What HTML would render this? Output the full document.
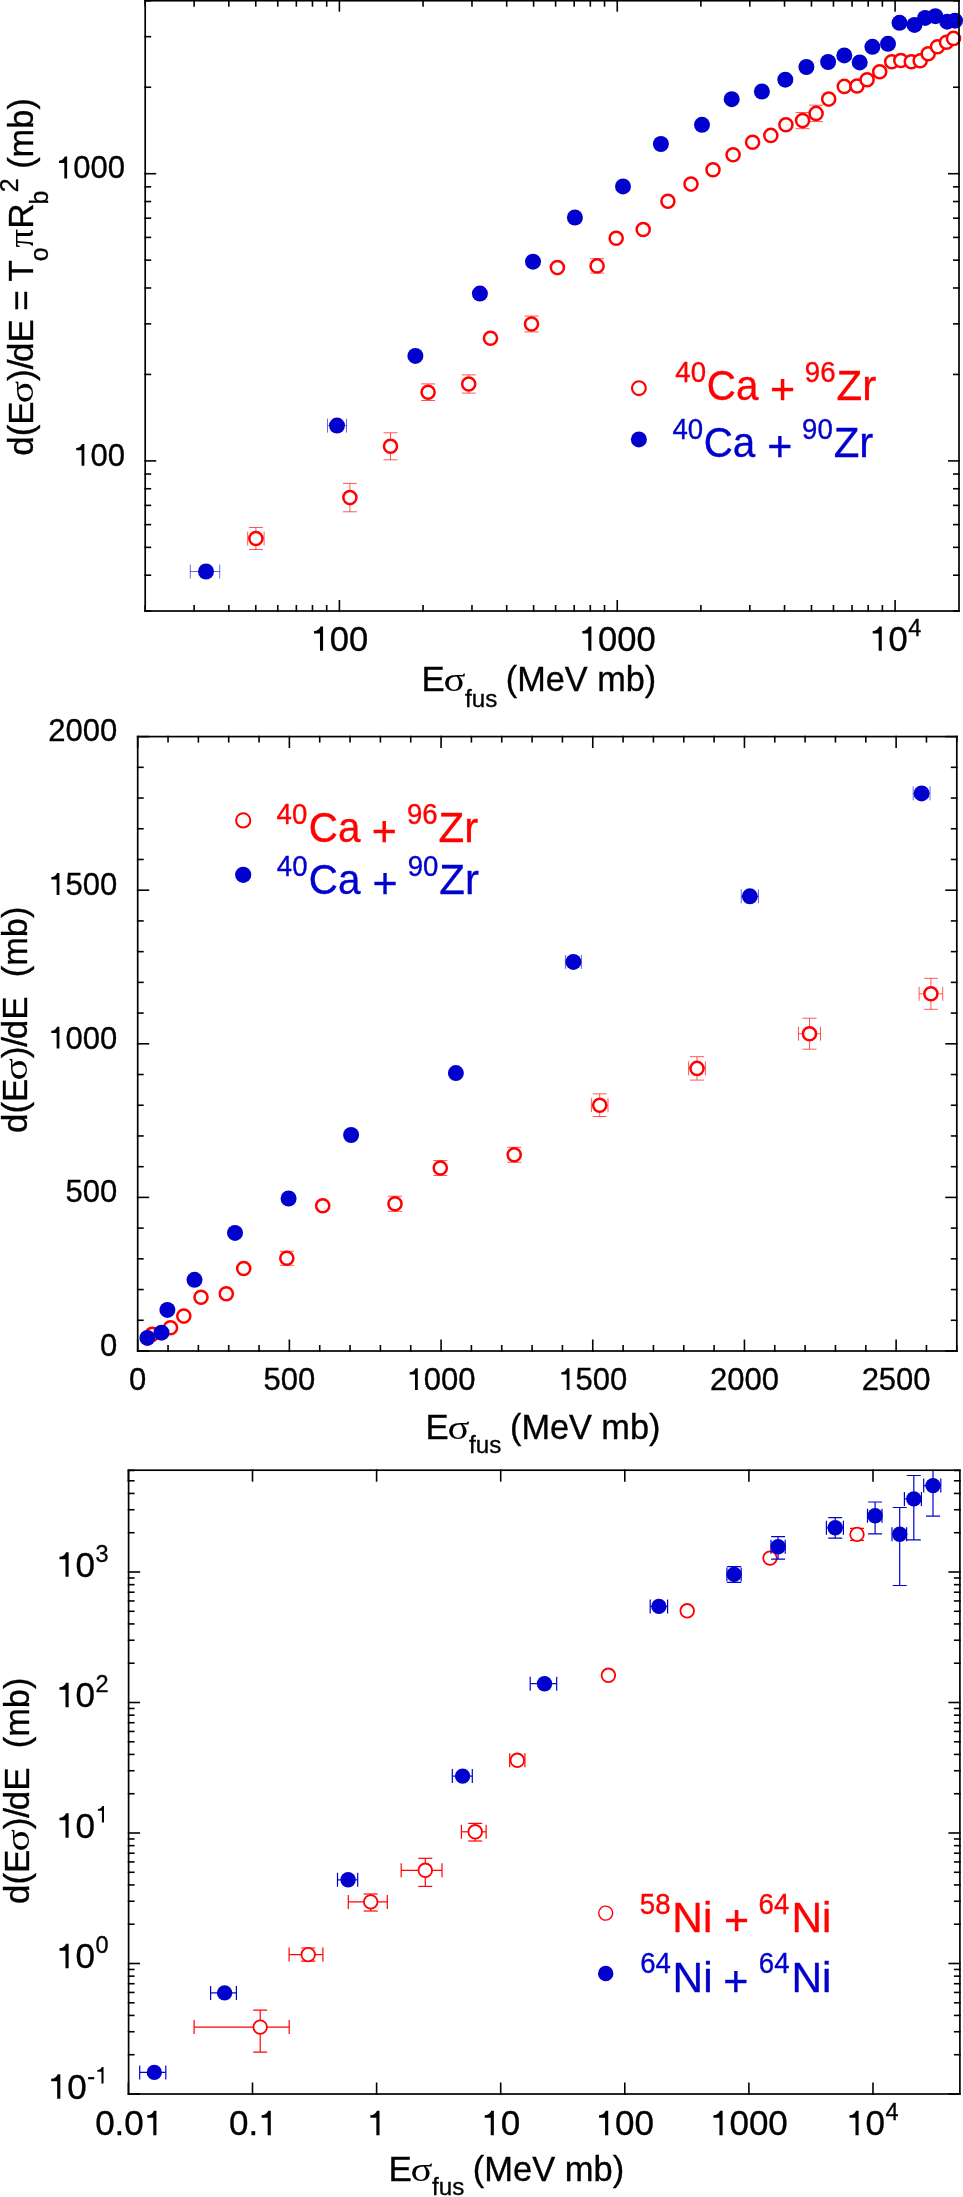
<!DOCTYPE html>
<html><head><meta charset="utf-8"><title>chart</title>
<style>html,body{margin:0;padding:0;background:#fff;overflow:hidden}svg{display:block;position:absolute;left:0;top:0}text{font-family:"Liberation Sans",sans-serif}</style>
</head><body>
<svg width="963" height="2197" viewBox="0 0 963 2197">
<rect width="963" height="2197" fill="#fff"/>
<g opacity="0.999">
<line x1="339.40" y1="611.80" x2="339.40" y2="600.00" stroke="#000" stroke-width="1.6" />
<line x1="339.40" y1="-0.10" x2="339.40" y2="11.70" stroke="#000" stroke-width="1.6" />
<line x1="617.25" y1="611.80" x2="617.25" y2="600.00" stroke="#000" stroke-width="1.6" />
<line x1="617.25" y1="-0.10" x2="617.25" y2="11.70" stroke="#000" stroke-width="1.6" />
<line x1="895.10" y1="611.80" x2="895.10" y2="600.00" stroke="#000" stroke-width="1.6" />
<line x1="895.10" y1="-0.10" x2="895.10" y2="11.70" stroke="#000" stroke-width="1.6" />
<line x1="145.19" y1="611.80" x2="145.19" y2="605.00" stroke="#000" stroke-width="1.6" />
<line x1="145.19" y1="-0.10" x2="145.19" y2="6.70" stroke="#000" stroke-width="1.6" />
<line x1="194.12" y1="611.80" x2="194.12" y2="605.00" stroke="#000" stroke-width="1.6" />
<line x1="194.12" y1="-0.10" x2="194.12" y2="6.70" stroke="#000" stroke-width="1.6" />
<line x1="228.83" y1="611.80" x2="228.83" y2="605.00" stroke="#000" stroke-width="1.6" />
<line x1="228.83" y1="-0.10" x2="228.83" y2="6.70" stroke="#000" stroke-width="1.6" />
<line x1="255.76" y1="611.80" x2="255.76" y2="605.00" stroke="#000" stroke-width="1.6" />
<line x1="255.76" y1="-0.10" x2="255.76" y2="6.70" stroke="#000" stroke-width="1.6" />
<line x1="277.76" y1="611.80" x2="277.76" y2="605.00" stroke="#000" stroke-width="1.6" />
<line x1="277.76" y1="-0.10" x2="277.76" y2="6.70" stroke="#000" stroke-width="1.6" />
<line x1="296.36" y1="611.80" x2="296.36" y2="605.00" stroke="#000" stroke-width="1.6" />
<line x1="296.36" y1="-0.10" x2="296.36" y2="6.70" stroke="#000" stroke-width="1.6" />
<line x1="312.47" y1="611.80" x2="312.47" y2="605.00" stroke="#000" stroke-width="1.6" />
<line x1="312.47" y1="-0.10" x2="312.47" y2="6.70" stroke="#000" stroke-width="1.6" />
<line x1="326.69" y1="611.80" x2="326.69" y2="605.00" stroke="#000" stroke-width="1.6" />
<line x1="326.69" y1="-0.10" x2="326.69" y2="6.70" stroke="#000" stroke-width="1.6" />
<line x1="423.04" y1="611.80" x2="423.04" y2="605.00" stroke="#000" stroke-width="1.6" />
<line x1="423.04" y1="-0.10" x2="423.04" y2="6.70" stroke="#000" stroke-width="1.6" />
<line x1="471.97" y1="611.80" x2="471.97" y2="605.00" stroke="#000" stroke-width="1.6" />
<line x1="471.97" y1="-0.10" x2="471.97" y2="6.70" stroke="#000" stroke-width="1.6" />
<line x1="506.68" y1="611.80" x2="506.68" y2="605.00" stroke="#000" stroke-width="1.6" />
<line x1="506.68" y1="-0.10" x2="506.68" y2="6.70" stroke="#000" stroke-width="1.6" />
<line x1="533.61" y1="611.80" x2="533.61" y2="605.00" stroke="#000" stroke-width="1.6" />
<line x1="533.61" y1="-0.10" x2="533.61" y2="6.70" stroke="#000" stroke-width="1.6" />
<line x1="555.61" y1="611.80" x2="555.61" y2="605.00" stroke="#000" stroke-width="1.6" />
<line x1="555.61" y1="-0.10" x2="555.61" y2="6.70" stroke="#000" stroke-width="1.6" />
<line x1="574.21" y1="611.80" x2="574.21" y2="605.00" stroke="#000" stroke-width="1.6" />
<line x1="574.21" y1="-0.10" x2="574.21" y2="6.70" stroke="#000" stroke-width="1.6" />
<line x1="590.32" y1="611.80" x2="590.32" y2="605.00" stroke="#000" stroke-width="1.6" />
<line x1="590.32" y1="-0.10" x2="590.32" y2="6.70" stroke="#000" stroke-width="1.6" />
<line x1="604.54" y1="611.80" x2="604.54" y2="605.00" stroke="#000" stroke-width="1.6" />
<line x1="604.54" y1="-0.10" x2="604.54" y2="6.70" stroke="#000" stroke-width="1.6" />
<line x1="700.89" y1="611.80" x2="700.89" y2="605.00" stroke="#000" stroke-width="1.6" />
<line x1="700.89" y1="-0.10" x2="700.89" y2="6.70" stroke="#000" stroke-width="1.6" />
<line x1="749.82" y1="611.80" x2="749.82" y2="605.00" stroke="#000" stroke-width="1.6" />
<line x1="749.82" y1="-0.10" x2="749.82" y2="6.70" stroke="#000" stroke-width="1.6" />
<line x1="784.53" y1="611.80" x2="784.53" y2="605.00" stroke="#000" stroke-width="1.6" />
<line x1="784.53" y1="-0.10" x2="784.53" y2="6.70" stroke="#000" stroke-width="1.6" />
<line x1="811.46" y1="611.80" x2="811.46" y2="605.00" stroke="#000" stroke-width="1.6" />
<line x1="811.46" y1="-0.10" x2="811.46" y2="6.70" stroke="#000" stroke-width="1.6" />
<line x1="833.46" y1="611.80" x2="833.46" y2="605.00" stroke="#000" stroke-width="1.6" />
<line x1="833.46" y1="-0.10" x2="833.46" y2="6.70" stroke="#000" stroke-width="1.6" />
<line x1="852.06" y1="611.80" x2="852.06" y2="605.00" stroke="#000" stroke-width="1.6" />
<line x1="852.06" y1="-0.10" x2="852.06" y2="6.70" stroke="#000" stroke-width="1.6" />
<line x1="868.17" y1="611.80" x2="868.17" y2="605.00" stroke="#000" stroke-width="1.6" />
<line x1="868.17" y1="-0.10" x2="868.17" y2="6.70" stroke="#000" stroke-width="1.6" />
<line x1="882.39" y1="611.80" x2="882.39" y2="605.00" stroke="#000" stroke-width="1.6" />
<line x1="882.39" y1="-0.10" x2="882.39" y2="6.70" stroke="#000" stroke-width="1.6" />
<line x1="144.40" y1="460.90" x2="156.20" y2="460.90" stroke="#000" stroke-width="1.6" />
<line x1="959.80" y1="460.90" x2="948.00" y2="460.90" stroke="#000" stroke-width="1.6" />
<line x1="144.40" y1="173.70" x2="156.20" y2="173.70" stroke="#000" stroke-width="1.6" />
<line x1="959.80" y1="173.70" x2="948.00" y2="173.70" stroke="#000" stroke-width="1.6" />
<line x1="144.40" y1="611.07" x2="151.20" y2="611.07" stroke="#000" stroke-width="1.6" />
<line x1="959.80" y1="611.07" x2="953.00" y2="611.07" stroke="#000" stroke-width="1.6" />
<line x1="144.40" y1="575.19" x2="151.20" y2="575.19" stroke="#000" stroke-width="1.6" />
<line x1="959.80" y1="575.19" x2="953.00" y2="575.19" stroke="#000" stroke-width="1.6" />
<line x1="144.40" y1="547.36" x2="151.20" y2="547.36" stroke="#000" stroke-width="1.6" />
<line x1="959.80" y1="547.36" x2="953.00" y2="547.36" stroke="#000" stroke-width="1.6" />
<line x1="144.40" y1="524.61" x2="151.20" y2="524.61" stroke="#000" stroke-width="1.6" />
<line x1="959.80" y1="524.61" x2="953.00" y2="524.61" stroke="#000" stroke-width="1.6" />
<line x1="144.40" y1="505.39" x2="151.20" y2="505.39" stroke="#000" stroke-width="1.6" />
<line x1="959.80" y1="505.39" x2="953.00" y2="505.39" stroke="#000" stroke-width="1.6" />
<line x1="144.40" y1="488.73" x2="151.20" y2="488.73" stroke="#000" stroke-width="1.6" />
<line x1="959.80" y1="488.73" x2="953.00" y2="488.73" stroke="#000" stroke-width="1.6" />
<line x1="144.40" y1="474.04" x2="151.20" y2="474.04" stroke="#000" stroke-width="1.6" />
<line x1="959.80" y1="474.04" x2="953.00" y2="474.04" stroke="#000" stroke-width="1.6" />
<line x1="144.40" y1="374.44" x2="151.20" y2="374.44" stroke="#000" stroke-width="1.6" />
<line x1="959.80" y1="374.44" x2="953.00" y2="374.44" stroke="#000" stroke-width="1.6" />
<line x1="144.40" y1="323.87" x2="151.20" y2="323.87" stroke="#000" stroke-width="1.6" />
<line x1="959.80" y1="323.87" x2="953.00" y2="323.87" stroke="#000" stroke-width="1.6" />
<line x1="144.40" y1="287.99" x2="151.20" y2="287.99" stroke="#000" stroke-width="1.6" />
<line x1="959.80" y1="287.99" x2="953.00" y2="287.99" stroke="#000" stroke-width="1.6" />
<line x1="144.40" y1="260.16" x2="151.20" y2="260.16" stroke="#000" stroke-width="1.6" />
<line x1="959.80" y1="260.16" x2="953.00" y2="260.16" stroke="#000" stroke-width="1.6" />
<line x1="144.40" y1="237.41" x2="151.20" y2="237.41" stroke="#000" stroke-width="1.6" />
<line x1="959.80" y1="237.41" x2="953.00" y2="237.41" stroke="#000" stroke-width="1.6" />
<line x1="144.40" y1="218.19" x2="151.20" y2="218.19" stroke="#000" stroke-width="1.6" />
<line x1="959.80" y1="218.19" x2="953.00" y2="218.19" stroke="#000" stroke-width="1.6" />
<line x1="144.40" y1="201.53" x2="151.20" y2="201.53" stroke="#000" stroke-width="1.6" />
<line x1="959.80" y1="201.53" x2="953.00" y2="201.53" stroke="#000" stroke-width="1.6" />
<line x1="144.40" y1="186.84" x2="151.20" y2="186.84" stroke="#000" stroke-width="1.6" />
<line x1="959.80" y1="186.84" x2="953.00" y2="186.84" stroke="#000" stroke-width="1.6" />
<line x1="144.40" y1="87.24" x2="151.20" y2="87.24" stroke="#000" stroke-width="1.6" />
<line x1="959.80" y1="87.24" x2="953.00" y2="87.24" stroke="#000" stroke-width="1.6" />
<line x1="144.40" y1="36.67" x2="151.20" y2="36.67" stroke="#000" stroke-width="1.6" />
<line x1="959.80" y1="36.67" x2="953.00" y2="36.67" stroke="#000" stroke-width="1.6" />
<line x1="144.40" y1="0.79" x2="151.20" y2="0.79" stroke="#000" stroke-width="1.6" />
<line x1="959.80" y1="0.79" x2="953.00" y2="0.79" stroke="#000" stroke-width="1.6" />
<path transform="translate(310.62,650.80) scale(0.03450,-0.03450)" d="M361 0H271V500H99V572C190 572 260 628 288 703H361Z" fill="#000"/>
<text x="329.81" y="650.80" font-size="34.5" fill="#000" stroke="#000" stroke-width="0.35">00</text>
<path transform="translate(578.92,650.80) scale(0.03450,-0.03450)" d="M361 0H271V500H99V572C190 572 260 628 288 703H361Z" fill="#000"/>
<text x="598.11" y="650.80" font-size="34.5" fill="#000" stroke="#000" stroke-width="0.35">000</text>
<path transform="translate(869.30,650.80) scale(0.03450,-0.03450)" d="M361 0H271V500H99V572C190 572 260 628 288 703H361Z" fill="#000"/>
<text x="888.49" y="650.80" font-size="34.5" fill="#000" stroke="#000" stroke-width="0.35">0</text>
<text x="908.28" y="635.50" font-size="23.5" fill="#000" stroke="#000" stroke-width="0.35">4</text>
<path transform="translate(55.93,178.40) scale(0.03100,-0.03100)" d="M361 0H271V500H99V572C190 572 260 628 288 703H361Z" fill="#000"/>
<text x="73.17" y="178.40" font-size="31" fill="#000" stroke="#000" stroke-width="0.35">000</text>
<path transform="translate(73.17,465.70) scale(0.03100,-0.03100)" d="M361 0H271V500H99V572C190 572 260 628 288 703H361Z" fill="#000"/>
<text x="90.42" y="465.70" font-size="31" fill="#000" stroke="#000" stroke-width="0.35">00</text>
<line x1="255.90" y1="527.50" x2="255.90" y2="549.50" stroke="#ff0000" stroke-width="0.85" stroke-opacity="0.78"/>
<line x1="248.90" y1="527.50" x2="262.90" y2="527.50" stroke="#ff0000" stroke-width="0.85" stroke-opacity="0.78"/>
<line x1="248.90" y1="549.50" x2="262.90" y2="549.50" stroke="#ff0000" stroke-width="0.85" stroke-opacity="0.78"/>
<line x1="247.70" y1="538.50" x2="264.10" y2="538.50" stroke="#ff0000" stroke-width="0.85" stroke-opacity="0.78"/>
<line x1="247.70" y1="531.50" x2="247.70" y2="545.50" stroke="#ff0000" stroke-width="0.85" stroke-opacity="0.78"/>
<line x1="264.10" y1="531.50" x2="264.10" y2="545.50" stroke="#ff0000" stroke-width="0.85" stroke-opacity="0.78"/>
<line x1="349.90" y1="483.40" x2="349.90" y2="511.80" stroke="#ff0000" stroke-width="0.85" stroke-opacity="0.78"/>
<line x1="342.90" y1="483.40" x2="356.90" y2="483.40" stroke="#ff0000" stroke-width="0.85" stroke-opacity="0.78"/>
<line x1="342.90" y1="511.80" x2="356.90" y2="511.80" stroke="#ff0000" stroke-width="0.85" stroke-opacity="0.78"/>
<line x1="390.50" y1="432.80" x2="390.50" y2="459.80" stroke="#ff0000" stroke-width="0.85" stroke-opacity="0.78"/>
<line x1="383.50" y1="432.80" x2="397.50" y2="432.80" stroke="#ff0000" stroke-width="0.85" stroke-opacity="0.78"/>
<line x1="383.50" y1="459.80" x2="397.50" y2="459.80" stroke="#ff0000" stroke-width="0.85" stroke-opacity="0.78"/>
<line x1="428.10" y1="383.90" x2="428.10" y2="400.50" stroke="#ff0000" stroke-width="0.85" stroke-opacity="0.78"/>
<line x1="421.10" y1="383.90" x2="435.10" y2="383.90" stroke="#ff0000" stroke-width="0.85" stroke-opacity="0.78"/>
<line x1="421.10" y1="400.50" x2="435.10" y2="400.50" stroke="#ff0000" stroke-width="0.85" stroke-opacity="0.78"/>
<line x1="468.70" y1="374.90" x2="468.70" y2="393.10" stroke="#ff0000" stroke-width="0.85" stroke-opacity="0.78"/>
<line x1="461.70" y1="374.90" x2="475.70" y2="374.90" stroke="#ff0000" stroke-width="0.85" stroke-opacity="0.78"/>
<line x1="461.70" y1="393.10" x2="475.70" y2="393.10" stroke="#ff0000" stroke-width="0.85" stroke-opacity="0.78"/>
<line x1="531.50" y1="316.10" x2="531.50" y2="331.90" stroke="#ff0000" stroke-width="0.85" stroke-opacity="0.78"/>
<line x1="524.50" y1="316.10" x2="538.50" y2="316.10" stroke="#ff0000" stroke-width="0.85" stroke-opacity="0.78"/>
<line x1="524.50" y1="331.90" x2="538.50" y2="331.90" stroke="#ff0000" stroke-width="0.85" stroke-opacity="0.78"/>
<line x1="597.10" y1="258.70" x2="597.10" y2="273.10" stroke="#ff0000" stroke-width="0.85" stroke-opacity="0.78"/>
<line x1="590.10" y1="258.70" x2="604.10" y2="258.70" stroke="#ff0000" stroke-width="0.85" stroke-opacity="0.78"/>
<line x1="590.10" y1="273.10" x2="604.10" y2="273.10" stroke="#ff0000" stroke-width="0.85" stroke-opacity="0.78"/>
<line x1="802.60" y1="112.50" x2="802.60" y2="128.70" stroke="#ff0000" stroke-width="0.85" stroke-opacity="0.78"/>
<line x1="795.60" y1="112.50" x2="809.60" y2="112.50" stroke="#ff0000" stroke-width="0.85" stroke-opacity="0.78"/>
<line x1="795.60" y1="128.70" x2="809.60" y2="128.70" stroke="#ff0000" stroke-width="0.85" stroke-opacity="0.78"/>
<line x1="816.10" y1="105.20" x2="816.10" y2="121.60" stroke="#ff0000" stroke-width="0.85" stroke-opacity="0.78"/>
<line x1="809.10" y1="105.20" x2="823.10" y2="105.20" stroke="#ff0000" stroke-width="0.85" stroke-opacity="0.78"/>
<line x1="809.10" y1="121.60" x2="823.10" y2="121.60" stroke="#ff0000" stroke-width="0.85" stroke-opacity="0.78"/>
<line x1="190.30" y1="571.50" x2="219.70" y2="571.50" stroke="#0000cd" stroke-width="0.85" stroke-opacity="0.7"/>
<line x1="190.30" y1="564.50" x2="190.30" y2="578.50" stroke="#0000cd" stroke-width="0.85" stroke-opacity="0.7"/>
<line x1="219.70" y1="564.50" x2="219.70" y2="578.50" stroke="#0000cd" stroke-width="0.85" stroke-opacity="0.7"/>
<line x1="327.50" y1="425.60" x2="346.50" y2="425.60" stroke="#0000cd" stroke-width="0.85" stroke-opacity="0.7"/>
<line x1="327.50" y1="418.60" x2="327.50" y2="432.60" stroke="#0000cd" stroke-width="0.85" stroke-opacity="0.7"/>
<line x1="346.50" y1="418.60" x2="346.50" y2="432.60" stroke="#0000cd" stroke-width="0.85" stroke-opacity="0.7"/>
<circle cx="206.00" cy="571.50" r="8.0" fill="#0000cd"/>
<circle cx="337.00" cy="425.60" r="8.0" fill="#0000cd"/>
<circle cx="415.40" cy="355.90" r="8.0" fill="#0000cd"/>
<circle cx="479.90" cy="293.60" r="8.0" fill="#0000cd"/>
<circle cx="533.00" cy="261.70" r="8.0" fill="#0000cd"/>
<circle cx="574.90" cy="217.50" r="8.0" fill="#0000cd"/>
<circle cx="623.00" cy="186.40" r="8.0" fill="#0000cd"/>
<circle cx="660.90" cy="144.00" r="8.0" fill="#0000cd"/>
<circle cx="702.00" cy="124.80" r="8.0" fill="#0000cd"/>
<circle cx="731.70" cy="99.20" r="8.0" fill="#0000cd"/>
<circle cx="761.90" cy="91.50" r="8.0" fill="#0000cd"/>
<circle cx="785.30" cy="79.70" r="8.0" fill="#0000cd"/>
<circle cx="806.40" cy="67.00" r="8.0" fill="#0000cd"/>
<circle cx="828.10" cy="62.00" r="8.0" fill="#0000cd"/>
<circle cx="844.30" cy="55.40" r="8.0" fill="#0000cd"/>
<circle cx="859.70" cy="62.40" r="8.0" fill="#0000cd"/>
<circle cx="872.40" cy="46.80" r="8.0" fill="#0000cd"/>
<circle cx="888.00" cy="43.80" r="8.0" fill="#0000cd"/>
<circle cx="899.50" cy="22.80" r="8.0" fill="#0000cd"/>
<circle cx="914.50" cy="24.90" r="8.0" fill="#0000cd"/>
<circle cx="925.10" cy="17.90" r="8.0" fill="#0000cd"/>
<circle cx="935.40" cy="16.20" r="8.0" fill="#0000cd"/>
<circle cx="947.20" cy="21.70" r="8.0" fill="#0000cd"/>
<circle cx="955.00" cy="20.70" r="8.0" fill="#0000cd"/>
<circle cx="255.90" cy="538.50" r="6.55" fill="#fff" stroke="#ff0000" stroke-width="2.5"/>
<circle cx="349.90" cy="497.60" r="6.55" fill="#fff" stroke="#ff0000" stroke-width="2.5"/>
<circle cx="390.50" cy="446.30" r="6.55" fill="#fff" stroke="#ff0000" stroke-width="2.5"/>
<circle cx="428.10" cy="392.20" r="6.55" fill="#fff" stroke="#ff0000" stroke-width="2.5"/>
<circle cx="468.70" cy="384.00" r="6.55" fill="#fff" stroke="#ff0000" stroke-width="2.5"/>
<circle cx="490.50" cy="338.20" r="6.55" fill="#fff" stroke="#ff0000" stroke-width="2.5"/>
<circle cx="531.50" cy="324.00" r="6.55" fill="#fff" stroke="#ff0000" stroke-width="2.5"/>
<circle cx="557.40" cy="267.60" r="6.55" fill="#fff" stroke="#ff0000" stroke-width="2.5"/>
<circle cx="597.10" cy="265.90" r="6.55" fill="#fff" stroke="#ff0000" stroke-width="2.5"/>
<circle cx="616.20" cy="238.20" r="6.55" fill="#fff" stroke="#ff0000" stroke-width="2.5"/>
<circle cx="643.20" cy="229.50" r="6.55" fill="#fff" stroke="#ff0000" stroke-width="2.5"/>
<circle cx="667.90" cy="201.30" r="6.55" fill="#fff" stroke="#ff0000" stroke-width="2.5"/>
<circle cx="691.00" cy="184.10" r="6.55" fill="#fff" stroke="#ff0000" stroke-width="2.5"/>
<circle cx="713.00" cy="169.70" r="6.55" fill="#fff" stroke="#ff0000" stroke-width="2.5"/>
<circle cx="733.10" cy="154.70" r="6.55" fill="#fff" stroke="#ff0000" stroke-width="2.5"/>
<circle cx="752.60" cy="142.30" r="6.55" fill="#fff" stroke="#ff0000" stroke-width="2.5"/>
<circle cx="770.80" cy="135.40" r="6.55" fill="#fff" stroke="#ff0000" stroke-width="2.5"/>
<circle cx="785.90" cy="124.80" r="6.55" fill="#fff" stroke="#ff0000" stroke-width="2.5"/>
<circle cx="802.60" cy="120.60" r="6.55" fill="#fff" stroke="#ff0000" stroke-width="2.5"/>
<circle cx="816.10" cy="113.40" r="6.55" fill="#fff" stroke="#ff0000" stroke-width="2.5"/>
<circle cx="828.70" cy="99.10" r="6.55" fill="#fff" stroke="#ff0000" stroke-width="2.5"/>
<circle cx="844.30" cy="86.40" r="6.55" fill="#fff" stroke="#ff0000" stroke-width="2.5"/>
<circle cx="857.00" cy="86.00" r="6.55" fill="#fff" stroke="#ff0000" stroke-width="2.5"/>
<circle cx="867.10" cy="79.70" r="6.55" fill="#fff" stroke="#ff0000" stroke-width="2.5"/>
<circle cx="879.70" cy="71.70" r="6.55" fill="#fff" stroke="#ff0000" stroke-width="2.5"/>
<circle cx="891.70" cy="61.80" r="6.55" fill="#fff" stroke="#ff0000" stroke-width="2.5"/>
<circle cx="900.80" cy="60.50" r="6.55" fill="#fff" stroke="#ff0000" stroke-width="2.5"/>
<circle cx="911.30" cy="61.80" r="6.55" fill="#fff" stroke="#ff0000" stroke-width="2.5"/>
<circle cx="920.20" cy="60.70" r="6.55" fill="#fff" stroke="#ff0000" stroke-width="2.5"/>
<circle cx="928.20" cy="53.80" r="6.55" fill="#fff" stroke="#ff0000" stroke-width="2.5"/>
<circle cx="937.50" cy="46.80" r="6.55" fill="#fff" stroke="#ff0000" stroke-width="2.5"/>
<circle cx="946.50" cy="42.20" r="6.55" fill="#fff" stroke="#ff0000" stroke-width="2.5"/>
<circle cx="953.50" cy="38.40" r="6.55" fill="#fff" stroke="#ff0000" stroke-width="2.5"/>
<rect x="145.20" y="0.70" width="813.80" height="610.30" fill="none" stroke="#000" stroke-width="1.7"/>
<circle cx="638.90" cy="388.20" r="6.9" fill="#fff" stroke="#ff0000" stroke-width="2.1"/>
<circle cx="638.90" cy="439.40" r="8.0" fill="#0000cd"/>
<text transform="translate(675.37,381.50) scale(1,1.05)" font-size="27.6" fill="#ff0000" stroke="#ff0000" stroke-width="0.35" style="font-family:'Liberation Sans',sans-serif">40</text>
<text transform="translate(706.75,399.80) scale(1,1.07)" font-size="40.4" fill="#ff0000" stroke="#ff0000" stroke-width="0.35" style="font-family:'Liberation Sans',sans-serif">Ca</text>
<text x="770.00" y="403.60" font-size="43" fill="#ff0000" stroke="#ff0000" stroke-width="0.35" style="font-family:'Liberation Sans',sans-serif">+</text>
<text transform="translate(804.81,381.50) scale(1,1.05)" font-size="27.6" fill="#ff0000" stroke="#ff0000" stroke-width="0.35" style="font-family:'Liberation Sans',sans-serif">96</text>
<text x="836.57" y="399.80" font-size="42" fill="#ff0000" stroke="#ff0000" stroke-width="0.35" style="font-family:'Liberation Sans',sans-serif">Zr</text>
<text transform="translate(672.47,439.00) scale(1,1.05)" font-size="27.6" fill="#0000cd" stroke="#0000cd" stroke-width="0.35" style="font-family:'Liberation Sans',sans-serif">40</text>
<text transform="translate(703.65,457.30) scale(1,1.07)" font-size="40.4" fill="#0000cd" stroke="#0000cd" stroke-width="0.35" style="font-family:'Liberation Sans',sans-serif">Ca</text>
<text x="767.30" y="461.10" font-size="43" fill="#0000cd" stroke="#0000cd" stroke-width="0.35" style="font-family:'Liberation Sans',sans-serif">+</text>
<text transform="translate(802.11,439.00) scale(1,1.05)" font-size="27.6" fill="#0000cd" stroke="#0000cd" stroke-width="0.35" style="font-family:'Liberation Sans',sans-serif">90</text>
<text x="833.67" y="457.30" font-size="42" fill="#0000cd" stroke="#0000cd" stroke-width="0.35" style="font-family:'Liberation Sans',sans-serif">Zr</text>
<text x="421.45" y="691.40" font-size="34.8" fill="#000" stroke="#000" stroke-width="0.35" style="font-family:'Liberation Sans',sans-serif">E</text>
<text transform="translate(443.44,691.40) scale(1.17,0.95)" font-size="35" fill="#000" stroke="#000" stroke-width="0" style="font-family:'Liberation Serif',serif">σ</text>
<text x="464.96" y="706.60" font-size="24.2" fill="#000" stroke="#000" stroke-width="0.35" style="font-family:'Liberation Sans',sans-serif">fus</text>
<text x="505.87" y="691.40" font-size="34.278" fill="#000" stroke="#000" stroke-width="0.35" style="font-family:'Liberation Sans',sans-serif">(MeV mb)</text>
<text transform="translate(32.80,455.77) rotate(-90) scale(1,1)" font-size="35" fill="#000" stroke="#000" stroke-width="0.35" style="font-family:'Liberation Sans',sans-serif">d(E</text>
<text transform="translate(32.80,403.29) rotate(-90) scale(1.19,0.95)" font-size="35" fill="#000" stroke="#000" stroke-width="0" style="font-family:'Liberation Serif',serif">σ</text>
<text transform="translate(32.80,381.01) rotate(-90) scale(1,1)" font-size="35" fill="#000" stroke="#000" stroke-width="0.35" style="font-family:'Liberation Sans',sans-serif">)/</text>
<text transform="translate(32.80,361.97) rotate(-90) scale(1,1)" font-size="35" fill="#000" stroke="#000" stroke-width="0.35" style="font-family:'Liberation Sans',sans-serif">dE</text>
<text transform="translate(32.80,310.71) rotate(-90) scale(1,1)" font-size="35" fill="#000" stroke="#000" stroke-width="0.35" style="font-family:'Liberation Sans',sans-serif">=</text>
<text transform="translate(32.80,281.59) rotate(-90) scale(1,1)" font-size="35" fill="#000" stroke="#000" stroke-width="0.35" style="font-family:'Liberation Sans',sans-serif">T</text>
<text transform="translate(48.00,261.25) rotate(-90) scale(1,1)" font-size="25" fill="#000" stroke="#000" stroke-width="0.35" style="font-family:'Liberation Sans',sans-serif">o</text>
<text transform="translate(32.80,247.40) rotate(-90) scale(1.045,1.03)" font-size="35" fill="#000" stroke="#000" stroke-width="0" style="font-family:'Liberation Serif',serif">π</text>
<text transform="translate(32.80,228.67) rotate(-90) scale(1,1)" font-size="35" fill="#000" stroke="#000" stroke-width="0.35" style="font-family:'Liberation Sans',sans-serif">R</text>
<text transform="translate(48.00,204.61) rotate(-90) scale(1,1)" font-size="25" fill="#000" stroke="#000" stroke-width="0.35" style="font-family:'Liberation Sans',sans-serif">b</text>
<text transform="translate(18.10,192.16) rotate(-90) scale(1,1)" font-size="25" fill="#000" stroke="#000" stroke-width="0.35" style="font-family:'Liberation Sans',sans-serif">2</text>
<text transform="translate(32.80,168.83) rotate(-90) scale(1,1)" font-size="34.4" fill="#000" stroke="#000" stroke-width="0.35" style="font-family:'Liberation Sans',sans-serif">(mb)</text>
<line x1="137.70" y1="1351.80" x2="137.70" y2="1339.50" stroke="#000" stroke-width="1.6" />
<line x1="137.70" y1="735.80" x2="137.70" y2="748.10" stroke="#000" stroke-width="1.6" />
<line x1="289.38" y1="1351.80" x2="289.38" y2="1339.50" stroke="#000" stroke-width="1.6" />
<line x1="289.38" y1="735.80" x2="289.38" y2="748.10" stroke="#000" stroke-width="1.6" />
<line x1="441.07" y1="1351.80" x2="441.07" y2="1339.50" stroke="#000" stroke-width="1.6" />
<line x1="441.07" y1="735.80" x2="441.07" y2="748.10" stroke="#000" stroke-width="1.6" />
<line x1="592.75" y1="1351.80" x2="592.75" y2="1339.50" stroke="#000" stroke-width="1.6" />
<line x1="592.75" y1="735.80" x2="592.75" y2="748.10" stroke="#000" stroke-width="1.6" />
<line x1="744.44" y1="1351.80" x2="744.44" y2="1339.50" stroke="#000" stroke-width="1.6" />
<line x1="744.44" y1="735.80" x2="744.44" y2="748.10" stroke="#000" stroke-width="1.6" />
<line x1="896.12" y1="1351.80" x2="896.12" y2="1339.50" stroke="#000" stroke-width="1.6" />
<line x1="896.12" y1="735.80" x2="896.12" y2="748.10" stroke="#000" stroke-width="1.6" />
<line x1="168.04" y1="1351.80" x2="168.04" y2="1345.00" stroke="#000" stroke-width="1.6" />
<line x1="168.04" y1="735.80" x2="168.04" y2="742.60" stroke="#000" stroke-width="1.6" />
<line x1="198.37" y1="1351.80" x2="198.37" y2="1345.00" stroke="#000" stroke-width="1.6" />
<line x1="198.37" y1="735.80" x2="198.37" y2="742.60" stroke="#000" stroke-width="1.6" />
<line x1="228.71" y1="1351.80" x2="228.71" y2="1345.00" stroke="#000" stroke-width="1.6" />
<line x1="228.71" y1="735.80" x2="228.71" y2="742.60" stroke="#000" stroke-width="1.6" />
<line x1="259.05" y1="1351.80" x2="259.05" y2="1345.00" stroke="#000" stroke-width="1.6" />
<line x1="259.05" y1="735.80" x2="259.05" y2="742.60" stroke="#000" stroke-width="1.6" />
<line x1="319.72" y1="1351.80" x2="319.72" y2="1345.00" stroke="#000" stroke-width="1.6" />
<line x1="319.72" y1="735.80" x2="319.72" y2="742.60" stroke="#000" stroke-width="1.6" />
<line x1="350.06" y1="1351.80" x2="350.06" y2="1345.00" stroke="#000" stroke-width="1.6" />
<line x1="350.06" y1="735.80" x2="350.06" y2="742.60" stroke="#000" stroke-width="1.6" />
<line x1="380.40" y1="1351.80" x2="380.40" y2="1345.00" stroke="#000" stroke-width="1.6" />
<line x1="380.40" y1="735.80" x2="380.40" y2="742.60" stroke="#000" stroke-width="1.6" />
<line x1="410.73" y1="1351.80" x2="410.73" y2="1345.00" stroke="#000" stroke-width="1.6" />
<line x1="410.73" y1="735.80" x2="410.73" y2="742.60" stroke="#000" stroke-width="1.6" />
<line x1="471.41" y1="1351.80" x2="471.41" y2="1345.00" stroke="#000" stroke-width="1.6" />
<line x1="471.41" y1="735.80" x2="471.41" y2="742.60" stroke="#000" stroke-width="1.6" />
<line x1="501.74" y1="1351.80" x2="501.74" y2="1345.00" stroke="#000" stroke-width="1.6" />
<line x1="501.74" y1="735.80" x2="501.74" y2="742.60" stroke="#000" stroke-width="1.6" />
<line x1="532.08" y1="1351.80" x2="532.08" y2="1345.00" stroke="#000" stroke-width="1.6" />
<line x1="532.08" y1="735.80" x2="532.08" y2="742.60" stroke="#000" stroke-width="1.6" />
<line x1="562.42" y1="1351.80" x2="562.42" y2="1345.00" stroke="#000" stroke-width="1.6" />
<line x1="562.42" y1="735.80" x2="562.42" y2="742.60" stroke="#000" stroke-width="1.6" />
<line x1="623.09" y1="1351.80" x2="623.09" y2="1345.00" stroke="#000" stroke-width="1.6" />
<line x1="623.09" y1="735.80" x2="623.09" y2="742.60" stroke="#000" stroke-width="1.6" />
<line x1="653.43" y1="1351.80" x2="653.43" y2="1345.00" stroke="#000" stroke-width="1.6" />
<line x1="653.43" y1="735.80" x2="653.43" y2="742.60" stroke="#000" stroke-width="1.6" />
<line x1="683.77" y1="1351.80" x2="683.77" y2="1345.00" stroke="#000" stroke-width="1.6" />
<line x1="683.77" y1="735.80" x2="683.77" y2="742.60" stroke="#000" stroke-width="1.6" />
<line x1="714.10" y1="1351.80" x2="714.10" y2="1345.00" stroke="#000" stroke-width="1.6" />
<line x1="714.10" y1="735.80" x2="714.10" y2="742.60" stroke="#000" stroke-width="1.6" />
<line x1="774.78" y1="1351.80" x2="774.78" y2="1345.00" stroke="#000" stroke-width="1.6" />
<line x1="774.78" y1="735.80" x2="774.78" y2="742.60" stroke="#000" stroke-width="1.6" />
<line x1="805.11" y1="1351.80" x2="805.11" y2="1345.00" stroke="#000" stroke-width="1.6" />
<line x1="805.11" y1="735.80" x2="805.11" y2="742.60" stroke="#000" stroke-width="1.6" />
<line x1="835.45" y1="1351.80" x2="835.45" y2="1345.00" stroke="#000" stroke-width="1.6" />
<line x1="835.45" y1="735.80" x2="835.45" y2="742.60" stroke="#000" stroke-width="1.6" />
<line x1="865.79" y1="1351.80" x2="865.79" y2="1345.00" stroke="#000" stroke-width="1.6" />
<line x1="865.79" y1="735.80" x2="865.79" y2="742.60" stroke="#000" stroke-width="1.6" />
<line x1="926.46" y1="1351.80" x2="926.46" y2="1345.00" stroke="#000" stroke-width="1.6" />
<line x1="926.46" y1="735.80" x2="926.46" y2="742.60" stroke="#000" stroke-width="1.6" />
<line x1="956.80" y1="1351.80" x2="956.80" y2="1345.00" stroke="#000" stroke-width="1.6" />
<line x1="956.80" y1="735.80" x2="956.80" y2="742.60" stroke="#000" stroke-width="1.6" />
<line x1="136.90" y1="1351.00" x2="149.20" y2="1351.00" stroke="#000" stroke-width="1.6" />
<line x1="957.60" y1="1351.00" x2="945.30" y2="1351.00" stroke="#000" stroke-width="1.6" />
<line x1="136.90" y1="1197.40" x2="149.20" y2="1197.40" stroke="#000" stroke-width="1.6" />
<line x1="957.60" y1="1197.40" x2="945.30" y2="1197.40" stroke="#000" stroke-width="1.6" />
<line x1="136.90" y1="1043.80" x2="149.20" y2="1043.80" stroke="#000" stroke-width="1.6" />
<line x1="957.60" y1="1043.80" x2="945.30" y2="1043.80" stroke="#000" stroke-width="1.6" />
<line x1="136.90" y1="890.20" x2="149.20" y2="890.20" stroke="#000" stroke-width="1.6" />
<line x1="957.60" y1="890.20" x2="945.30" y2="890.20" stroke="#000" stroke-width="1.6" />
<line x1="136.90" y1="736.60" x2="149.20" y2="736.60" stroke="#000" stroke-width="1.6" />
<line x1="957.60" y1="736.60" x2="945.30" y2="736.60" stroke="#000" stroke-width="1.6" />
<line x1="136.90" y1="1320.28" x2="143.70" y2="1320.28" stroke="#000" stroke-width="1.6" />
<line x1="957.60" y1="1320.28" x2="950.80" y2="1320.28" stroke="#000" stroke-width="1.6" />
<line x1="136.90" y1="1289.56" x2="143.70" y2="1289.56" stroke="#000" stroke-width="1.6" />
<line x1="957.60" y1="1289.56" x2="950.80" y2="1289.56" stroke="#000" stroke-width="1.6" />
<line x1="136.90" y1="1258.84" x2="143.70" y2="1258.84" stroke="#000" stroke-width="1.6" />
<line x1="957.60" y1="1258.84" x2="950.80" y2="1258.84" stroke="#000" stroke-width="1.6" />
<line x1="136.90" y1="1228.12" x2="143.70" y2="1228.12" stroke="#000" stroke-width="1.6" />
<line x1="957.60" y1="1228.12" x2="950.80" y2="1228.12" stroke="#000" stroke-width="1.6" />
<line x1="136.90" y1="1166.68" x2="143.70" y2="1166.68" stroke="#000" stroke-width="1.6" />
<line x1="957.60" y1="1166.68" x2="950.80" y2="1166.68" stroke="#000" stroke-width="1.6" />
<line x1="136.90" y1="1135.96" x2="143.70" y2="1135.96" stroke="#000" stroke-width="1.6" />
<line x1="957.60" y1="1135.96" x2="950.80" y2="1135.96" stroke="#000" stroke-width="1.6" />
<line x1="136.90" y1="1105.24" x2="143.70" y2="1105.24" stroke="#000" stroke-width="1.6" />
<line x1="957.60" y1="1105.24" x2="950.80" y2="1105.24" stroke="#000" stroke-width="1.6" />
<line x1="136.90" y1="1074.52" x2="143.70" y2="1074.52" stroke="#000" stroke-width="1.6" />
<line x1="957.60" y1="1074.52" x2="950.80" y2="1074.52" stroke="#000" stroke-width="1.6" />
<line x1="136.90" y1="1013.08" x2="143.70" y2="1013.08" stroke="#000" stroke-width="1.6" />
<line x1="957.60" y1="1013.08" x2="950.80" y2="1013.08" stroke="#000" stroke-width="1.6" />
<line x1="136.90" y1="982.36" x2="143.70" y2="982.36" stroke="#000" stroke-width="1.6" />
<line x1="957.60" y1="982.36" x2="950.80" y2="982.36" stroke="#000" stroke-width="1.6" />
<line x1="136.90" y1="951.64" x2="143.70" y2="951.64" stroke="#000" stroke-width="1.6" />
<line x1="957.60" y1="951.64" x2="950.80" y2="951.64" stroke="#000" stroke-width="1.6" />
<line x1="136.90" y1="920.92" x2="143.70" y2="920.92" stroke="#000" stroke-width="1.6" />
<line x1="957.60" y1="920.92" x2="950.80" y2="920.92" stroke="#000" stroke-width="1.6" />
<line x1="136.90" y1="859.48" x2="143.70" y2="859.48" stroke="#000" stroke-width="1.6" />
<line x1="957.60" y1="859.48" x2="950.80" y2="859.48" stroke="#000" stroke-width="1.6" />
<line x1="136.90" y1="828.76" x2="143.70" y2="828.76" stroke="#000" stroke-width="1.6" />
<line x1="957.60" y1="828.76" x2="950.80" y2="828.76" stroke="#000" stroke-width="1.6" />
<line x1="136.90" y1="798.04" x2="143.70" y2="798.04" stroke="#000" stroke-width="1.6" />
<line x1="957.60" y1="798.04" x2="950.80" y2="798.04" stroke="#000" stroke-width="1.6" />
<line x1="136.90" y1="767.32" x2="143.70" y2="767.32" stroke="#000" stroke-width="1.6" />
<line x1="957.60" y1="767.32" x2="950.80" y2="767.32" stroke="#000" stroke-width="1.6" />
<text x="129.08" y="1390.00" font-size="31" fill="#000" stroke="#000" stroke-width="0.35">0</text>
<text x="263.52" y="1390.00" font-size="31" fill="#000" stroke="#000" stroke-width="0.35">500</text>
<path transform="translate(406.59,1390.00) scale(0.03100,-0.03100)" d="M361 0H271V500H99V572C190 572 260 628 288 703H361Z" fill="#000"/>
<text x="423.83" y="1390.00" font-size="31" fill="#000" stroke="#000" stroke-width="0.35">000</text>
<path transform="translate(558.27,1390.00) scale(0.03100,-0.03100)" d="M361 0H271V500H99V572C190 572 260 628 288 703H361Z" fill="#000"/>
<text x="575.51" y="1390.00" font-size="31" fill="#000" stroke="#000" stroke-width="0.35">500</text>
<text x="709.96" y="1390.00" font-size="31" fill="#000" stroke="#000" stroke-width="0.35">2000</text>
<text x="861.64" y="1390.00" font-size="31" fill="#000" stroke="#000" stroke-width="0.35">2500</text>
<text x="99.96" y="1355.70" font-size="31" fill="#000" stroke="#000" stroke-width="0.35">0</text>
<text x="65.47" y="1202.10" font-size="31" fill="#000" stroke="#000" stroke-width="0.35">500</text>
<path transform="translate(48.23,1048.50) scale(0.03100,-0.03100)" d="M361 0H271V500H99V572C190 572 260 628 288 703H361Z" fill="#000"/>
<text x="65.47" y="1048.50" font-size="31" fill="#000" stroke="#000" stroke-width="0.35">000</text>
<path transform="translate(48.23,894.90) scale(0.03100,-0.03100)" d="M361 0H271V500H99V572C190 572 260 628 288 703H361Z" fill="#000"/>
<text x="65.47" y="894.90" font-size="31" fill="#000" stroke="#000" stroke-width="0.35">500</text>
<text x="48.23" y="741.30" font-size="31" fill="#000" stroke="#000" stroke-width="0.35">2000</text>
<line x1="286.80" y1="1251.30" x2="286.80" y2="1265.30" stroke="#ff0000" stroke-width="0.85" stroke-opacity="0.78"/>
<line x1="279.80" y1="1251.30" x2="293.80" y2="1251.30" stroke="#ff0000" stroke-width="0.85" stroke-opacity="0.78"/>
<line x1="279.80" y1="1265.30" x2="293.80" y2="1265.30" stroke="#ff0000" stroke-width="0.85" stroke-opacity="0.78"/>
<line x1="395.00" y1="1196.20" x2="395.00" y2="1211.40" stroke="#ff0000" stroke-width="0.85" stroke-opacity="0.78"/>
<line x1="388.00" y1="1196.20" x2="402.00" y2="1196.20" stroke="#ff0000" stroke-width="0.85" stroke-opacity="0.78"/>
<line x1="388.00" y1="1211.40" x2="402.00" y2="1211.40" stroke="#ff0000" stroke-width="0.85" stroke-opacity="0.78"/>
<line x1="440.30" y1="1160.50" x2="440.30" y2="1175.50" stroke="#ff0000" stroke-width="0.85" stroke-opacity="0.78"/>
<line x1="433.30" y1="1160.50" x2="447.30" y2="1160.50" stroke="#ff0000" stroke-width="0.85" stroke-opacity="0.78"/>
<line x1="433.30" y1="1175.50" x2="447.30" y2="1175.50" stroke="#ff0000" stroke-width="0.85" stroke-opacity="0.78"/>
<line x1="514.20" y1="1147.30" x2="514.20" y2="1162.30" stroke="#ff0000" stroke-width="0.85" stroke-opacity="0.78"/>
<line x1="507.20" y1="1147.30" x2="521.20" y2="1147.30" stroke="#ff0000" stroke-width="0.85" stroke-opacity="0.78"/>
<line x1="507.20" y1="1162.30" x2="521.20" y2="1162.30" stroke="#ff0000" stroke-width="0.85" stroke-opacity="0.78"/>
<line x1="599.70" y1="1093.90" x2="599.70" y2="1116.50" stroke="#ff0000" stroke-width="0.85" stroke-opacity="0.78"/>
<line x1="592.70" y1="1093.90" x2="606.70" y2="1093.90" stroke="#ff0000" stroke-width="0.85" stroke-opacity="0.78"/>
<line x1="592.70" y1="1116.50" x2="606.70" y2="1116.50" stroke="#ff0000" stroke-width="0.85" stroke-opacity="0.78"/>
<line x1="591.40" y1="1105.20" x2="608.00" y2="1105.20" stroke="#ff0000" stroke-width="0.85" stroke-opacity="0.78"/>
<line x1="591.40" y1="1098.20" x2="591.40" y2="1112.20" stroke="#ff0000" stroke-width="0.85" stroke-opacity="0.78"/>
<line x1="608.00" y1="1098.20" x2="608.00" y2="1112.20" stroke="#ff0000" stroke-width="0.85" stroke-opacity="0.78"/>
<line x1="697.00" y1="1056.70" x2="697.00" y2="1080.10" stroke="#ff0000" stroke-width="0.85" stroke-opacity="0.78"/>
<line x1="690.00" y1="1056.70" x2="704.00" y2="1056.70" stroke="#ff0000" stroke-width="0.85" stroke-opacity="0.78"/>
<line x1="690.00" y1="1080.10" x2="704.00" y2="1080.10" stroke="#ff0000" stroke-width="0.85" stroke-opacity="0.78"/>
<line x1="688.60" y1="1068.40" x2="705.40" y2="1068.40" stroke="#ff0000" stroke-width="0.85" stroke-opacity="0.78"/>
<line x1="688.60" y1="1061.40" x2="688.60" y2="1075.40" stroke="#ff0000" stroke-width="0.85" stroke-opacity="0.78"/>
<line x1="705.40" y1="1061.40" x2="705.40" y2="1075.40" stroke="#ff0000" stroke-width="0.85" stroke-opacity="0.78"/>
<line x1="809.50" y1="1018.20" x2="809.50" y2="1049.20" stroke="#ff0000" stroke-width="0.85" stroke-opacity="0.78"/>
<line x1="802.50" y1="1018.20" x2="816.50" y2="1018.20" stroke="#ff0000" stroke-width="0.85" stroke-opacity="0.78"/>
<line x1="802.50" y1="1049.20" x2="816.50" y2="1049.20" stroke="#ff0000" stroke-width="0.85" stroke-opacity="0.78"/>
<line x1="798.50" y1="1033.70" x2="820.50" y2="1033.70" stroke="#ff0000" stroke-width="0.85" stroke-opacity="0.78"/>
<line x1="798.50" y1="1026.70" x2="798.50" y2="1040.70" stroke="#ff0000" stroke-width="0.85" stroke-opacity="0.78"/>
<line x1="820.50" y1="1026.70" x2="820.50" y2="1040.70" stroke="#ff0000" stroke-width="0.85" stroke-opacity="0.78"/>
<line x1="930.90" y1="978.30" x2="930.90" y2="1009.30" stroke="#ff0000" stroke-width="0.85" stroke-opacity="0.78"/>
<line x1="923.90" y1="978.30" x2="937.90" y2="978.30" stroke="#ff0000" stroke-width="0.85" stroke-opacity="0.78"/>
<line x1="923.90" y1="1009.30" x2="937.90" y2="1009.30" stroke="#ff0000" stroke-width="0.85" stroke-opacity="0.78"/>
<line x1="919.10" y1="993.80" x2="942.70" y2="993.80" stroke="#ff0000" stroke-width="0.85" stroke-opacity="0.78"/>
<line x1="919.10" y1="986.80" x2="919.10" y2="1000.80" stroke="#ff0000" stroke-width="0.85" stroke-opacity="0.78"/>
<line x1="942.70" y1="986.80" x2="942.70" y2="1000.80" stroke="#ff0000" stroke-width="0.85" stroke-opacity="0.78"/>
<line x1="565.40" y1="961.90" x2="581.40" y2="961.90" stroke="#0000cd" stroke-width="0.85" stroke-opacity="0.7"/>
<line x1="565.40" y1="954.90" x2="565.40" y2="968.90" stroke="#0000cd" stroke-width="0.85" stroke-opacity="0.7"/>
<line x1="581.40" y1="954.90" x2="581.40" y2="968.90" stroke="#0000cd" stroke-width="0.85" stroke-opacity="0.7"/>
<line x1="741.25" y1="896.30" x2="758.45" y2="896.30" stroke="#0000cd" stroke-width="0.85" stroke-opacity="0.7"/>
<line x1="741.25" y1="889.30" x2="741.25" y2="903.30" stroke="#0000cd" stroke-width="0.85" stroke-opacity="0.7"/>
<line x1="758.45" y1="889.30" x2="758.45" y2="903.30" stroke="#0000cd" stroke-width="0.85" stroke-opacity="0.7"/>
<line x1="913.20" y1="793.40" x2="930.00" y2="793.40" stroke="#0000cd" stroke-width="0.85" stroke-opacity="0.7"/>
<line x1="913.20" y1="786.40" x2="913.20" y2="800.40" stroke="#0000cd" stroke-width="0.85" stroke-opacity="0.7"/>
<line x1="930.00" y1="786.40" x2="930.00" y2="800.40" stroke="#0000cd" stroke-width="0.85" stroke-opacity="0.7"/>
<circle cx="152.20" cy="1334.20" r="6.55" fill="#fff" stroke="#ff0000" stroke-width="2.5"/>
<circle cx="170.50" cy="1327.70" r="6.55" fill="#fff" stroke="#ff0000" stroke-width="2.5"/>
<circle cx="183.80" cy="1316.10" r="6.55" fill="#fff" stroke="#ff0000" stroke-width="2.5"/>
<circle cx="201.00" cy="1297.30" r="6.55" fill="#fff" stroke="#ff0000" stroke-width="2.5"/>
<circle cx="226.30" cy="1293.70" r="6.55" fill="#fff" stroke="#ff0000" stroke-width="2.5"/>
<circle cx="243.70" cy="1268.50" r="6.55" fill="#fff" stroke="#ff0000" stroke-width="2.5"/>
<circle cx="286.80" cy="1258.30" r="6.55" fill="#fff" stroke="#ff0000" stroke-width="2.5"/>
<circle cx="322.70" cy="1205.80" r="6.55" fill="#fff" stroke="#ff0000" stroke-width="2.5"/>
<circle cx="395.00" cy="1203.80" r="6.55" fill="#fff" stroke="#ff0000" stroke-width="2.5"/>
<circle cx="440.30" cy="1168.00" r="6.55" fill="#fff" stroke="#ff0000" stroke-width="2.5"/>
<circle cx="514.20" cy="1154.80" r="6.55" fill="#fff" stroke="#ff0000" stroke-width="2.5"/>
<circle cx="599.70" cy="1105.20" r="6.55" fill="#fff" stroke="#ff0000" stroke-width="2.5"/>
<circle cx="697.00" cy="1068.40" r="6.55" fill="#fff" stroke="#ff0000" stroke-width="2.5"/>
<circle cx="809.50" cy="1033.70" r="6.55" fill="#fff" stroke="#ff0000" stroke-width="2.5"/>
<circle cx="930.90" cy="993.80" r="6.55" fill="#fff" stroke="#ff0000" stroke-width="2.5"/>
<circle cx="147.40" cy="1337.90" r="8.0" fill="#0000cd"/>
<circle cx="161.50" cy="1332.70" r="8.0" fill="#0000cd"/>
<circle cx="167.40" cy="1309.90" r="8.0" fill="#0000cd"/>
<circle cx="194.50" cy="1279.80" r="8.0" fill="#0000cd"/>
<circle cx="235.00" cy="1232.90" r="8.0" fill="#0000cd"/>
<circle cx="288.60" cy="1198.50" r="8.0" fill="#0000cd"/>
<circle cx="351.10" cy="1135.00" r="8.0" fill="#0000cd"/>
<circle cx="455.90" cy="1073.10" r="8.0" fill="#0000cd"/>
<circle cx="573.40" cy="961.90" r="8.0" fill="#0000cd"/>
<circle cx="749.85" cy="896.30" r="8.0" fill="#0000cd"/>
<circle cx="921.60" cy="793.40" r="8.0" fill="#0000cd"/>
<rect x="137.70" y="736.60" width="819.10" height="614.40" fill="none" stroke="#000" stroke-width="1.7"/>
<circle cx="243.20" cy="820.40" r="7.1" fill="#fff" stroke="#ff0000" stroke-width="2.0"/>
<circle cx="243.20" cy="874.80" r="8.1" fill="#0000cd"/>
<text transform="translate(276.57,823.70) scale(1,1.05)" font-size="27.6" fill="#ff0000" stroke="#ff0000" stroke-width="0.35" style="font-family:'Liberation Sans',sans-serif">40</text>
<text transform="translate(308.75,842.00) scale(1,1.07)" font-size="40.4" fill="#ff0000" stroke="#ff0000" stroke-width="0.35" style="font-family:'Liberation Sans',sans-serif">Ca</text>
<text x="371.80" y="845.80" font-size="43" fill="#ff0000" stroke="#ff0000" stroke-width="0.35" style="font-family:'Liberation Sans',sans-serif">+</text>
<text transform="translate(407.01,823.70) scale(1,1.05)" font-size="27.6" fill="#ff0000" stroke="#ff0000" stroke-width="0.35" style="font-family:'Liberation Sans',sans-serif">96</text>
<text x="438.57" y="842.00" font-size="42" fill="#ff0000" stroke="#ff0000" stroke-width="0.35" style="font-family:'Liberation Sans',sans-serif">Zr</text>
<text transform="translate(276.87,875.50) scale(1,1.05)" font-size="27.6" fill="#0000cd" stroke="#0000cd" stroke-width="0.35" style="font-family:'Liberation Sans',sans-serif">40</text>
<text transform="translate(308.75,893.80) scale(1,1.07)" font-size="40.4" fill="#0000cd" stroke="#0000cd" stroke-width="0.35" style="font-family:'Liberation Sans',sans-serif">Ca</text>
<text x="372.50" y="897.60" font-size="43" fill="#0000cd" stroke="#0000cd" stroke-width="0.35" style="font-family:'Liberation Sans',sans-serif">+</text>
<text transform="translate(407.71,875.50) scale(1,1.05)" font-size="27.6" fill="#0000cd" stroke="#0000cd" stroke-width="0.35" style="font-family:'Liberation Sans',sans-serif">90</text>
<text x="439.37" y="893.80" font-size="42" fill="#0000cd" stroke="#0000cd" stroke-width="0.35" style="font-family:'Liberation Sans',sans-serif">Zr</text>
<text x="425.55" y="1438.50" font-size="34.8" fill="#000" stroke="#000" stroke-width="0.35" style="font-family:'Liberation Sans',sans-serif">E</text>
<text transform="translate(447.54,1438.50) scale(1.17,0.95)" font-size="35" fill="#000" stroke="#000" stroke-width="0" style="font-family:'Liberation Serif',serif">σ</text>
<text x="469.06" y="1452.70" font-size="24.2" fill="#000" stroke="#000" stroke-width="0.35" style="font-family:'Liberation Sans',sans-serif">fus</text>
<text x="509.97" y="1438.50" font-size="34.278" fill="#000" stroke="#000" stroke-width="0.35" style="font-family:'Liberation Sans',sans-serif">(MeV mb)</text>
<text transform="translate(26.90,1133.07) rotate(-90) scale(1,1)" font-size="35" fill="#000" stroke="#000" stroke-width="0.35" style="font-family:'Liberation Sans',sans-serif">d(E</text>
<text transform="translate(26.90,1080.59) rotate(-90) scale(1.19,0.95)" font-size="35" fill="#000" stroke="#000" stroke-width="0" style="font-family:'Liberation Serif',serif">σ</text>
<text transform="translate(26.90,1058.31) rotate(-90) scale(1,1)" font-size="35" fill="#000" stroke="#000" stroke-width="0.35" style="font-family:'Liberation Sans',sans-serif">)/</text>
<text transform="translate(26.90,1039.27) rotate(-90) scale(1,1)" font-size="35" fill="#000" stroke="#000" stroke-width="0.35" style="font-family:'Liberation Sans',sans-serif">dE</text>
<text transform="translate(26.90,977.23) rotate(-90) scale(1,1)" font-size="34.4" fill="#000" stroke="#000" stroke-width="0.35" style="font-family:'Liberation Sans',sans-serif">(mb)</text>
<line x1="128.40" y1="2094.80" x2="128.40" y2="2082.50" stroke="#000" stroke-width="1.6" />
<line x1="128.40" y1="1469.40" x2="128.40" y2="1481.70" stroke="#000" stroke-width="1.6" />
<line x1="252.50" y1="2094.80" x2="252.50" y2="2082.50" stroke="#000" stroke-width="1.6" />
<line x1="252.50" y1="1469.40" x2="252.50" y2="1481.70" stroke="#000" stroke-width="1.6" />
<line x1="376.60" y1="2094.80" x2="376.60" y2="2082.50" stroke="#000" stroke-width="1.6" />
<line x1="376.60" y1="1469.40" x2="376.60" y2="1481.70" stroke="#000" stroke-width="1.6" />
<line x1="500.70" y1="2094.80" x2="500.70" y2="2082.50" stroke="#000" stroke-width="1.6" />
<line x1="500.70" y1="1469.40" x2="500.70" y2="1481.70" stroke="#000" stroke-width="1.6" />
<line x1="624.80" y1="2094.80" x2="624.80" y2="2082.50" stroke="#000" stroke-width="1.6" />
<line x1="624.80" y1="1469.40" x2="624.80" y2="1481.70" stroke="#000" stroke-width="1.6" />
<line x1="748.90" y1="2094.80" x2="748.90" y2="2082.50" stroke="#000" stroke-width="1.6" />
<line x1="748.90" y1="1469.40" x2="748.90" y2="1481.70" stroke="#000" stroke-width="1.6" />
<line x1="873.00" y1="2094.80" x2="873.00" y2="2082.50" stroke="#000" stroke-width="1.6" />
<line x1="873.00" y1="1469.40" x2="873.00" y2="1481.70" stroke="#000" stroke-width="1.6" />
<line x1="127.80" y1="2094.00" x2="140.10" y2="2094.00" stroke="#000" stroke-width="1.6" />
<line x1="960.70" y1="2094.00" x2="948.40" y2="2094.00" stroke="#000" stroke-width="1.6" />
<line x1="127.80" y1="1963.50" x2="140.10" y2="1963.50" stroke="#000" stroke-width="1.6" />
<line x1="960.70" y1="1963.50" x2="948.40" y2="1963.50" stroke="#000" stroke-width="1.6" />
<line x1="127.80" y1="1833.00" x2="140.10" y2="1833.00" stroke="#000" stroke-width="1.6" />
<line x1="960.70" y1="1833.00" x2="948.40" y2="1833.00" stroke="#000" stroke-width="1.6" />
<line x1="127.80" y1="1702.50" x2="140.10" y2="1702.50" stroke="#000" stroke-width="1.6" />
<line x1="960.70" y1="1702.50" x2="948.40" y2="1702.50" stroke="#000" stroke-width="1.6" />
<line x1="127.80" y1="1572.00" x2="140.10" y2="1572.00" stroke="#000" stroke-width="1.6" />
<line x1="960.70" y1="1572.00" x2="948.40" y2="1572.00" stroke="#000" stroke-width="1.6" />
<line x1="127.80" y1="2054.72" x2="134.60" y2="2054.72" stroke="#000" stroke-width="1.6" />
<line x1="960.70" y1="2054.72" x2="953.90" y2="2054.72" stroke="#000" stroke-width="1.6" />
<line x1="127.80" y1="2031.74" x2="134.60" y2="2031.74" stroke="#000" stroke-width="1.6" />
<line x1="960.70" y1="2031.74" x2="953.90" y2="2031.74" stroke="#000" stroke-width="1.6" />
<line x1="127.80" y1="2015.43" x2="134.60" y2="2015.43" stroke="#000" stroke-width="1.6" />
<line x1="960.70" y1="2015.43" x2="953.90" y2="2015.43" stroke="#000" stroke-width="1.6" />
<line x1="127.80" y1="2002.78" x2="134.60" y2="2002.78" stroke="#000" stroke-width="1.6" />
<line x1="960.70" y1="2002.78" x2="953.90" y2="2002.78" stroke="#000" stroke-width="1.6" />
<line x1="127.80" y1="1992.45" x2="134.60" y2="1992.45" stroke="#000" stroke-width="1.6" />
<line x1="960.70" y1="1992.45" x2="953.90" y2="1992.45" stroke="#000" stroke-width="1.6" />
<line x1="127.80" y1="1983.71" x2="134.60" y2="1983.71" stroke="#000" stroke-width="1.6" />
<line x1="960.70" y1="1983.71" x2="953.90" y2="1983.71" stroke="#000" stroke-width="1.6" />
<line x1="127.80" y1="1976.15" x2="134.60" y2="1976.15" stroke="#000" stroke-width="1.6" />
<line x1="960.70" y1="1976.15" x2="953.90" y2="1976.15" stroke="#000" stroke-width="1.6" />
<line x1="127.80" y1="1969.47" x2="134.60" y2="1969.47" stroke="#000" stroke-width="1.6" />
<line x1="960.70" y1="1969.47" x2="953.90" y2="1969.47" stroke="#000" stroke-width="1.6" />
<line x1="127.80" y1="1924.22" x2="134.60" y2="1924.22" stroke="#000" stroke-width="1.6" />
<line x1="960.70" y1="1924.22" x2="953.90" y2="1924.22" stroke="#000" stroke-width="1.6" />
<line x1="127.80" y1="1901.24" x2="134.60" y2="1901.24" stroke="#000" stroke-width="1.6" />
<line x1="960.70" y1="1901.24" x2="953.90" y2="1901.24" stroke="#000" stroke-width="1.6" />
<line x1="127.80" y1="1884.93" x2="134.60" y2="1884.93" stroke="#000" stroke-width="1.6" />
<line x1="960.70" y1="1884.93" x2="953.90" y2="1884.93" stroke="#000" stroke-width="1.6" />
<line x1="127.80" y1="1872.28" x2="134.60" y2="1872.28" stroke="#000" stroke-width="1.6" />
<line x1="960.70" y1="1872.28" x2="953.90" y2="1872.28" stroke="#000" stroke-width="1.6" />
<line x1="127.80" y1="1861.95" x2="134.60" y2="1861.95" stroke="#000" stroke-width="1.6" />
<line x1="960.70" y1="1861.95" x2="953.90" y2="1861.95" stroke="#000" stroke-width="1.6" />
<line x1="127.80" y1="1853.21" x2="134.60" y2="1853.21" stroke="#000" stroke-width="1.6" />
<line x1="960.70" y1="1853.21" x2="953.90" y2="1853.21" stroke="#000" stroke-width="1.6" />
<line x1="127.80" y1="1845.65" x2="134.60" y2="1845.65" stroke="#000" stroke-width="1.6" />
<line x1="960.70" y1="1845.65" x2="953.90" y2="1845.65" stroke="#000" stroke-width="1.6" />
<line x1="127.80" y1="1838.97" x2="134.60" y2="1838.97" stroke="#000" stroke-width="1.6" />
<line x1="960.70" y1="1838.97" x2="953.90" y2="1838.97" stroke="#000" stroke-width="1.6" />
<line x1="127.80" y1="1793.72" x2="134.60" y2="1793.72" stroke="#000" stroke-width="1.6" />
<line x1="960.70" y1="1793.72" x2="953.90" y2="1793.72" stroke="#000" stroke-width="1.6" />
<line x1="127.80" y1="1770.74" x2="134.60" y2="1770.74" stroke="#000" stroke-width="1.6" />
<line x1="960.70" y1="1770.74" x2="953.90" y2="1770.74" stroke="#000" stroke-width="1.6" />
<line x1="127.80" y1="1754.43" x2="134.60" y2="1754.43" stroke="#000" stroke-width="1.6" />
<line x1="960.70" y1="1754.43" x2="953.90" y2="1754.43" stroke="#000" stroke-width="1.6" />
<line x1="127.80" y1="1741.78" x2="134.60" y2="1741.78" stroke="#000" stroke-width="1.6" />
<line x1="960.70" y1="1741.78" x2="953.90" y2="1741.78" stroke="#000" stroke-width="1.6" />
<line x1="127.80" y1="1731.45" x2="134.60" y2="1731.45" stroke="#000" stroke-width="1.6" />
<line x1="960.70" y1="1731.45" x2="953.90" y2="1731.45" stroke="#000" stroke-width="1.6" />
<line x1="127.80" y1="1722.71" x2="134.60" y2="1722.71" stroke="#000" stroke-width="1.6" />
<line x1="960.70" y1="1722.71" x2="953.90" y2="1722.71" stroke="#000" stroke-width="1.6" />
<line x1="127.80" y1="1715.15" x2="134.60" y2="1715.15" stroke="#000" stroke-width="1.6" />
<line x1="960.70" y1="1715.15" x2="953.90" y2="1715.15" stroke="#000" stroke-width="1.6" />
<line x1="127.80" y1="1708.47" x2="134.60" y2="1708.47" stroke="#000" stroke-width="1.6" />
<line x1="960.70" y1="1708.47" x2="953.90" y2="1708.47" stroke="#000" stroke-width="1.6" />
<line x1="127.80" y1="1663.22" x2="134.60" y2="1663.22" stroke="#000" stroke-width="1.6" />
<line x1="960.70" y1="1663.22" x2="953.90" y2="1663.22" stroke="#000" stroke-width="1.6" />
<line x1="127.80" y1="1640.24" x2="134.60" y2="1640.24" stroke="#000" stroke-width="1.6" />
<line x1="960.70" y1="1640.24" x2="953.90" y2="1640.24" stroke="#000" stroke-width="1.6" />
<line x1="127.80" y1="1623.93" x2="134.60" y2="1623.93" stroke="#000" stroke-width="1.6" />
<line x1="960.70" y1="1623.93" x2="953.90" y2="1623.93" stroke="#000" stroke-width="1.6" />
<line x1="127.80" y1="1611.28" x2="134.60" y2="1611.28" stroke="#000" stroke-width="1.6" />
<line x1="960.70" y1="1611.28" x2="953.90" y2="1611.28" stroke="#000" stroke-width="1.6" />
<line x1="127.80" y1="1600.95" x2="134.60" y2="1600.95" stroke="#000" stroke-width="1.6" />
<line x1="960.70" y1="1600.95" x2="953.90" y2="1600.95" stroke="#000" stroke-width="1.6" />
<line x1="127.80" y1="1592.21" x2="134.60" y2="1592.21" stroke="#000" stroke-width="1.6" />
<line x1="960.70" y1="1592.21" x2="953.90" y2="1592.21" stroke="#000" stroke-width="1.6" />
<line x1="127.80" y1="1584.65" x2="134.60" y2="1584.65" stroke="#000" stroke-width="1.6" />
<line x1="960.70" y1="1584.65" x2="953.90" y2="1584.65" stroke="#000" stroke-width="1.6" />
<line x1="127.80" y1="1577.97" x2="134.60" y2="1577.97" stroke="#000" stroke-width="1.6" />
<line x1="960.70" y1="1577.97" x2="953.90" y2="1577.97" stroke="#000" stroke-width="1.6" />
<line x1="127.80" y1="1532.72" x2="134.60" y2="1532.72" stroke="#000" stroke-width="1.6" />
<line x1="960.70" y1="1532.72" x2="953.90" y2="1532.72" stroke="#000" stroke-width="1.6" />
<line x1="127.80" y1="1509.74" x2="134.60" y2="1509.74" stroke="#000" stroke-width="1.6" />
<line x1="960.70" y1="1509.74" x2="953.90" y2="1509.74" stroke="#000" stroke-width="1.6" />
<line x1="127.80" y1="1493.43" x2="134.60" y2="1493.43" stroke="#000" stroke-width="1.6" />
<line x1="960.70" y1="1493.43" x2="953.90" y2="1493.43" stroke="#000" stroke-width="1.6" />
<line x1="127.80" y1="1480.78" x2="134.60" y2="1480.78" stroke="#000" stroke-width="1.6" />
<line x1="960.70" y1="1480.78" x2="953.90" y2="1480.78" stroke="#000" stroke-width="1.6" />
<line x1="127.80" y1="1470.45" x2="134.60" y2="1470.45" stroke="#000" stroke-width="1.6" />
<line x1="960.70" y1="1470.45" x2="953.90" y2="1470.45" stroke="#000" stroke-width="1.6" />
<text x="95.14" y="2135.30" font-size="35" fill="#000" stroke="#000" stroke-width="0.35">0.0</text>
<path transform="translate(143.80,2135.30) scale(0.03500,-0.03500)" d="M361 0H271V500H99V572C190 572 260 628 288 703H361Z" fill="#000"/>
<text x="228.97" y="2135.30" font-size="35" fill="#000" stroke="#000" stroke-width="0.35">0.</text>
<path transform="translate(258.16,2135.30) scale(0.03500,-0.03500)" d="M361 0H271V500H99V572C190 572 260 628 288 703H361Z" fill="#000"/>
<path transform="translate(366.87,2135.30) scale(0.03500,-0.03500)" d="M361 0H271V500H99V572C190 572 260 628 288 703H361Z" fill="#000"/>
<path transform="translate(481.23,2135.30) scale(0.03500,-0.03500)" d="M361 0H271V500H99V572C190 572 260 628 288 703H361Z" fill="#000"/>
<text x="500.70" y="2135.30" font-size="35" fill="#000" stroke="#000" stroke-width="0.35">0</text>
<path transform="translate(595.60,2135.30) scale(0.03500,-0.03500)" d="M361 0H271V500H99V572C190 572 260 628 288 703H361Z" fill="#000"/>
<text x="615.07" y="2135.30" font-size="35" fill="#000" stroke="#000" stroke-width="0.35">00</text>
<path transform="translate(709.97,2135.30) scale(0.03500,-0.03500)" d="M361 0H271V500H99V572C190 572 260 628 288 703H361Z" fill="#000"/>
<text x="729.43" y="2135.30" font-size="35" fill="#000" stroke="#000" stroke-width="0.35">000</text>
<path transform="translate(846.00,2135.30) scale(0.03500,-0.03500)" d="M361 0H271V500H99V572C190 572 260 628 288 703H361Z" fill="#000"/>
<text x="865.47" y="2135.30" font-size="35" fill="#000" stroke="#000" stroke-width="0.35">0</text>
<text x="885.53" y="2120.00" font-size="23.5" fill="#000" stroke="#000" stroke-width="0.35">4</text>
<path transform="translate(47.70,2098.80) scale(0.03500,-0.03500)" d="M361 0H271V500H99V572C190 572 260 628 288 703H361Z" fill="#000"/>
<text x="67.17" y="2098.80" font-size="35" fill="#000" stroke="#000" stroke-width="0.35">0</text>
<text x="87.23" y="2083.50" font-size="23.5" fill="#000" stroke="#000" stroke-width="0.35">-</text>
<path transform="translate(95.06,2083.50) scale(0.02350,-0.02350)" d="M361 0H271V500H99V572C190 572 260 628 288 703H361Z" fill="#000"/>
<path transform="translate(56.00,1968.30) scale(0.03500,-0.03500)" d="M361 0H271V500H99V572C190 572 260 628 288 703H361Z" fill="#000"/>
<text x="75.47" y="1968.30" font-size="35" fill="#000" stroke="#000" stroke-width="0.35">0</text>
<text x="95.53" y="1953.00" font-size="23.5" fill="#000" stroke="#000" stroke-width="0.35">0</text>
<path transform="translate(56.00,1837.80) scale(0.03500,-0.03500)" d="M361 0H271V500H99V572C190 572 260 628 288 703H361Z" fill="#000"/>
<text x="75.47" y="1837.80" font-size="35" fill="#000" stroke="#000" stroke-width="0.35">0</text>
<path transform="translate(95.53,1822.50) scale(0.02350,-0.02350)" d="M361 0H271V500H99V572C190 572 260 628 288 703H361Z" fill="#000"/>
<path transform="translate(56.00,1707.30) scale(0.03500,-0.03500)" d="M361 0H271V500H99V572C190 572 260 628 288 703H361Z" fill="#000"/>
<text x="75.47" y="1707.30" font-size="35" fill="#000" stroke="#000" stroke-width="0.35">0</text>
<text x="95.53" y="1692.00" font-size="23.5" fill="#000" stroke="#000" stroke-width="0.35">2</text>
<path transform="translate(56.00,1576.80) scale(0.03500,-0.03500)" d="M361 0H271V500H99V572C190 572 260 628 288 703H361Z" fill="#000"/>
<text x="75.47" y="1576.80" font-size="35" fill="#000" stroke="#000" stroke-width="0.35">0</text>
<text x="95.53" y="1561.50" font-size="23.5" fill="#000" stroke="#000" stroke-width="0.35">3</text>
<clipPath id="c3"><rect x="128.6" y="1470.2" width="831.3" height="623.8"/></clipPath>
<g clip-path="url(#c3)">
<line x1="194.10" y1="2027.10" x2="289.20" y2="2027.10" stroke="#ff0000" stroke-width="1.2" />
<line x1="194.10" y1="2020.10" x2="194.10" y2="2034.10" stroke="#ff0000" stroke-width="1.2" />
<line x1="289.20" y1="2020.10" x2="289.20" y2="2034.10" stroke="#ff0000" stroke-width="1.2" />
<line x1="260.20" y1="2010.20" x2="260.20" y2="2052.10" stroke="#ff0000" stroke-width="1.2" />
<line x1="253.20" y1="2010.20" x2="267.20" y2="2010.20" stroke="#ff0000" stroke-width="1.2" />
<line x1="253.20" y1="2052.10" x2="267.20" y2="2052.10" stroke="#ff0000" stroke-width="1.2" />
<line x1="289.10" y1="1954.60" x2="322.90" y2="1954.60" stroke="#ff0000" stroke-width="1.2" />
<line x1="289.10" y1="1947.60" x2="289.10" y2="1961.60" stroke="#ff0000" stroke-width="1.2" />
<line x1="322.90" y1="1947.60" x2="322.90" y2="1961.60" stroke="#ff0000" stroke-width="1.2" />
<line x1="308.20" y1="1948.00" x2="308.20" y2="1961.10" stroke="#ff0000" stroke-width="1.2" />
<line x1="301.20" y1="1948.00" x2="315.20" y2="1948.00" stroke="#ff0000" stroke-width="1.2" />
<line x1="301.20" y1="1961.10" x2="315.20" y2="1961.10" stroke="#ff0000" stroke-width="1.2" />
<line x1="348.30" y1="1901.90" x2="387.30" y2="1901.90" stroke="#ff0000" stroke-width="1.2" />
<line x1="348.30" y1="1894.90" x2="348.30" y2="1908.90" stroke="#ff0000" stroke-width="1.2" />
<line x1="387.30" y1="1894.90" x2="387.30" y2="1908.90" stroke="#ff0000" stroke-width="1.2" />
<line x1="370.70" y1="1894.00" x2="370.70" y2="1911.00" stroke="#ff0000" stroke-width="1.2" />
<line x1="363.70" y1="1894.00" x2="377.70" y2="1894.00" stroke="#ff0000" stroke-width="1.2" />
<line x1="363.70" y1="1911.00" x2="377.70" y2="1911.00" stroke="#ff0000" stroke-width="1.2" />
<line x1="401.20" y1="1870.30" x2="442.00" y2="1870.30" stroke="#ff0000" stroke-width="1.2" />
<line x1="401.20" y1="1863.30" x2="401.20" y2="1877.30" stroke="#ff0000" stroke-width="1.2" />
<line x1="442.00" y1="1863.30" x2="442.00" y2="1877.30" stroke="#ff0000" stroke-width="1.2" />
<line x1="425.30" y1="1858.30" x2="425.30" y2="1886.40" stroke="#ff0000" stroke-width="1.2" />
<line x1="418.30" y1="1858.30" x2="432.30" y2="1858.30" stroke="#ff0000" stroke-width="1.2" />
<line x1="418.30" y1="1886.40" x2="432.30" y2="1886.40" stroke="#ff0000" stroke-width="1.2" />
<line x1="461.40" y1="1831.80" x2="486.10" y2="1831.80" stroke="#ff0000" stroke-width="1.2" />
<line x1="461.40" y1="1824.80" x2="461.40" y2="1838.80" stroke="#ff0000" stroke-width="1.2" />
<line x1="486.10" y1="1824.80" x2="486.10" y2="1838.80" stroke="#ff0000" stroke-width="1.2" />
<line x1="475.20" y1="1823.40" x2="475.20" y2="1841.00" stroke="#ff0000" stroke-width="1.2" />
<line x1="468.20" y1="1823.40" x2="482.20" y2="1823.40" stroke="#ff0000" stroke-width="1.2" />
<line x1="468.20" y1="1841.00" x2="482.20" y2="1841.00" stroke="#ff0000" stroke-width="1.2" />
<line x1="509.70" y1="1760.30" x2="524.90" y2="1760.30" stroke="#ff0000" stroke-width="1.2" />
<line x1="509.70" y1="1753.30" x2="509.70" y2="1767.30" stroke="#ff0000" stroke-width="1.2" />
<line x1="524.90" y1="1753.30" x2="524.90" y2="1767.30" stroke="#ff0000" stroke-width="1.2" />
<line x1="857.00" y1="1528.40" x2="857.00" y2="1540.40" stroke="#ff0000" stroke-width="1.2" />
<line x1="850.00" y1="1528.40" x2="864.00" y2="1528.40" stroke="#ff0000" stroke-width="1.2" />
<line x1="850.00" y1="1540.40" x2="864.00" y2="1540.40" stroke="#ff0000" stroke-width="1.2" />
</g>
<circle cx="260.20" cy="2027.10" r="6.8" fill="#fff" stroke="#ff0000" stroke-width="1.8"/>
<circle cx="308.20" cy="1954.60" r="6.8" fill="#fff" stroke="#ff0000" stroke-width="1.8"/>
<circle cx="370.70" cy="1901.90" r="6.8" fill="#fff" stroke="#ff0000" stroke-width="1.8"/>
<circle cx="425.30" cy="1870.30" r="6.8" fill="#fff" stroke="#ff0000" stroke-width="1.8"/>
<circle cx="475.20" cy="1831.80" r="6.8" fill="#fff" stroke="#ff0000" stroke-width="1.8"/>
<circle cx="517.30" cy="1760.30" r="6.8" fill="#fff" stroke="#ff0000" stroke-width="1.8"/>
<circle cx="608.40" cy="1675.30" r="6.8" fill="#fff" stroke="#ff0000" stroke-width="1.8"/>
<circle cx="687.20" cy="1610.80" r="6.8" fill="#fff" stroke="#ff0000" stroke-width="1.8"/>
<circle cx="770.00" cy="1558.10" r="6.8" fill="#fff" stroke="#ff0000" stroke-width="1.8"/>
<circle cx="857.00" cy="1534.40" r="6.8" fill="#fff" stroke="#ff0000" stroke-width="1.8"/>
<g clip-path="url(#c3)">
<line x1="139.70" y1="2072.40" x2="165.80" y2="2072.40" stroke="#0000cd" stroke-width="1.2" />
<line x1="139.70" y1="2065.40" x2="139.70" y2="2079.40" stroke="#0000cd" stroke-width="1.2" />
<line x1="165.80" y1="2065.40" x2="165.80" y2="2079.40" stroke="#0000cd" stroke-width="1.2" />
<line x1="210.60" y1="1992.90" x2="236.40" y2="1992.90" stroke="#0000cd" stroke-width="1.2" />
<line x1="210.60" y1="1985.90" x2="210.60" y2="1999.90" stroke="#0000cd" stroke-width="1.2" />
<line x1="236.40" y1="1985.90" x2="236.40" y2="1999.90" stroke="#0000cd" stroke-width="1.2" />
<line x1="337.50" y1="1879.80" x2="357.70" y2="1879.80" stroke="#0000cd" stroke-width="1.2" />
<line x1="337.50" y1="1872.80" x2="337.50" y2="1886.80" stroke="#0000cd" stroke-width="1.2" />
<line x1="357.70" y1="1872.80" x2="357.70" y2="1886.80" stroke="#0000cd" stroke-width="1.2" />
<line x1="452.30" y1="1776.10" x2="472.30" y2="1776.10" stroke="#0000cd" stroke-width="1.2" />
<line x1="452.30" y1="1769.10" x2="452.30" y2="1783.10" stroke="#0000cd" stroke-width="1.2" />
<line x1="472.30" y1="1769.10" x2="472.30" y2="1783.10" stroke="#0000cd" stroke-width="1.2" />
<line x1="530.20" y1="1683.70" x2="556.70" y2="1683.70" stroke="#0000cd" stroke-width="1.2" />
<line x1="530.20" y1="1676.70" x2="530.20" y2="1690.70" stroke="#0000cd" stroke-width="1.2" />
<line x1="556.70" y1="1676.70" x2="556.70" y2="1690.70" stroke="#0000cd" stroke-width="1.2" />
<line x1="650.20" y1="1606.40" x2="667.60" y2="1606.40" stroke="#0000cd" stroke-width="1.2" />
<line x1="650.20" y1="1599.40" x2="650.20" y2="1613.40" stroke="#0000cd" stroke-width="1.2" />
<line x1="667.60" y1="1599.40" x2="667.60" y2="1613.40" stroke="#0000cd" stroke-width="1.2" />
<line x1="726.90" y1="1574.40" x2="741.20" y2="1574.40" stroke="#0000cd" stroke-width="1.2" />
<line x1="726.90" y1="1567.40" x2="726.90" y2="1581.40" stroke="#0000cd" stroke-width="1.2" />
<line x1="741.20" y1="1567.40" x2="741.20" y2="1581.40" stroke="#0000cd" stroke-width="1.2" />
<line x1="734.10" y1="1566.70" x2="734.10" y2="1582.40" stroke="#0000cd" stroke-width="1.2" />
<line x1="727.10" y1="1566.70" x2="741.10" y2="1566.70" stroke="#0000cd" stroke-width="1.2" />
<line x1="727.10" y1="1582.40" x2="741.10" y2="1582.40" stroke="#0000cd" stroke-width="1.2" />
<line x1="771.00" y1="1546.70" x2="785.20" y2="1546.70" stroke="#0000cd" stroke-width="1.2" />
<line x1="771.00" y1="1539.70" x2="771.00" y2="1553.70" stroke="#0000cd" stroke-width="1.2" />
<line x1="785.20" y1="1539.70" x2="785.20" y2="1553.70" stroke="#0000cd" stroke-width="1.2" />
<line x1="778.10" y1="1536.60" x2="778.10" y2="1559.20" stroke="#0000cd" stroke-width="1.2" />
<line x1="771.10" y1="1536.60" x2="785.10" y2="1536.60" stroke="#0000cd" stroke-width="1.2" />
<line x1="771.10" y1="1559.20" x2="785.10" y2="1559.20" stroke="#0000cd" stroke-width="1.2" />
<line x1="826.40" y1="1527.80" x2="843.40" y2="1527.80" stroke="#0000cd" stroke-width="1.2" />
<line x1="826.40" y1="1520.80" x2="826.40" y2="1534.80" stroke="#0000cd" stroke-width="1.2" />
<line x1="843.40" y1="1520.80" x2="843.40" y2="1534.80" stroke="#0000cd" stroke-width="1.2" />
<line x1="835.20" y1="1517.70" x2="835.20" y2="1538.20" stroke="#0000cd" stroke-width="1.2" />
<line x1="828.20" y1="1517.70" x2="842.20" y2="1517.70" stroke="#0000cd" stroke-width="1.2" />
<line x1="828.20" y1="1538.20" x2="842.20" y2="1538.20" stroke="#0000cd" stroke-width="1.2" />
<line x1="867.50" y1="1515.80" x2="882.00" y2="1515.80" stroke="#0000cd" stroke-width="1.2" />
<line x1="867.50" y1="1508.80" x2="867.50" y2="1522.80" stroke="#0000cd" stroke-width="1.2" />
<line x1="882.00" y1="1508.80" x2="882.00" y2="1522.80" stroke="#0000cd" stroke-width="1.2" />
<line x1="875.10" y1="1502.00" x2="875.10" y2="1533.80" stroke="#0000cd" stroke-width="1.2" />
<line x1="868.10" y1="1502.00" x2="882.10" y2="1502.00" stroke="#0000cd" stroke-width="1.2" />
<line x1="868.10" y1="1533.80" x2="882.10" y2="1533.80" stroke="#0000cd" stroke-width="1.2" />
<line x1="892.00" y1="1534.20" x2="906.60" y2="1534.20" stroke="#0000cd" stroke-width="1.2" />
<line x1="892.00" y1="1527.20" x2="892.00" y2="1541.20" stroke="#0000cd" stroke-width="1.2" />
<line x1="906.60" y1="1527.20" x2="906.60" y2="1541.20" stroke="#0000cd" stroke-width="1.2" />
<line x1="899.70" y1="1507.50" x2="899.70" y2="1585.50" stroke="#0000cd" stroke-width="1.2" />
<line x1="892.70" y1="1507.50" x2="906.70" y2="1507.50" stroke="#0000cd" stroke-width="1.2" />
<line x1="892.70" y1="1585.50" x2="906.70" y2="1585.50" stroke="#0000cd" stroke-width="1.2" />
<line x1="904.40" y1="1498.90" x2="921.40" y2="1498.90" stroke="#0000cd" stroke-width="1.2" />
<line x1="904.40" y1="1491.90" x2="904.40" y2="1505.90" stroke="#0000cd" stroke-width="1.2" />
<line x1="921.40" y1="1491.90" x2="921.40" y2="1505.90" stroke="#0000cd" stroke-width="1.2" />
<line x1="913.80" y1="1475.50" x2="913.80" y2="1539.90" stroke="#0000cd" stroke-width="1.2" />
<line x1="906.80" y1="1475.50" x2="920.80" y2="1475.50" stroke="#0000cd" stroke-width="1.2" />
<line x1="906.80" y1="1539.90" x2="920.80" y2="1539.90" stroke="#0000cd" stroke-width="1.2" />
<line x1="923.70" y1="1485.60" x2="940.80" y2="1485.60" stroke="#0000cd" stroke-width="1.2" />
<line x1="923.70" y1="1478.60" x2="923.70" y2="1492.60" stroke="#0000cd" stroke-width="1.2" />
<line x1="940.80" y1="1478.60" x2="940.80" y2="1492.60" stroke="#0000cd" stroke-width="1.2" />
<line x1="933.00" y1="1470.20" x2="933.00" y2="1516.10" stroke="#0000cd" stroke-width="1.2" />
<line x1="926.00" y1="1516.10" x2="940.00" y2="1516.10" stroke="#0000cd" stroke-width="1.2" />
</g>
<circle cx="154.30" cy="2072.40" r="7.7" fill="#0000cd"/>
<circle cx="224.60" cy="1992.90" r="7.7" fill="#0000cd"/>
<circle cx="348.10" cy="1879.80" r="7.7" fill="#0000cd"/>
<circle cx="462.60" cy="1776.10" r="7.7" fill="#0000cd"/>
<circle cx="544.50" cy="1683.70" r="7.7" fill="#0000cd"/>
<circle cx="658.90" cy="1606.40" r="7.7" fill="#0000cd"/>
<circle cx="734.10" cy="1574.40" r="7.7" fill="#0000cd"/>
<circle cx="778.10" cy="1546.70" r="7.7" fill="#0000cd"/>
<circle cx="835.20" cy="1527.80" r="7.7" fill="#0000cd"/>
<circle cx="875.10" cy="1515.80" r="7.7" fill="#0000cd"/>
<circle cx="899.70" cy="1534.20" r="7.7" fill="#0000cd"/>
<circle cx="913.80" cy="1498.90" r="7.7" fill="#0000cd"/>
<circle cx="933.00" cy="1485.60" r="7.7" fill="#0000cd"/>
<rect x="128.60" y="1470.20" width="831.30" height="623.80" fill="none" stroke="#000" stroke-width="1.7"/>
<circle cx="605.70" cy="1913.10" r="7.0" fill="#fff" stroke="#ff0000" stroke-width="1.4"/>
<circle cx="605.70" cy="1973.50" r="7.7" fill="#0000cd"/>
<text transform="translate(639.79,1913.50) scale(1,1.05)" font-size="27.6" fill="#ff0000" stroke="#ff0000" stroke-width="0.35" style="font-family:'Liberation Sans',sans-serif">58</text>
<text x="672.32" y="1931.60" font-size="42.4" fill="#ff0000" stroke="#ff0000" stroke-width="0.35" style="font-family:'Liberation Sans',sans-serif">Ni</text>
<text x="724.10" y="1935.40" font-size="43" fill="#ff0000" stroke="#ff0000" stroke-width="0.35" style="font-family:'Liberation Sans',sans-serif">+</text>
<text transform="translate(758.60,1913.50) scale(1,1.05)" font-size="27.6" fill="#ff0000" stroke="#ff0000" stroke-width="0.35" style="font-family:'Liberation Sans',sans-serif">64</text>
<text x="791.42" y="1931.60" font-size="42.4" fill="#ff0000" stroke="#ff0000" stroke-width="0.35" style="font-family:'Liberation Sans',sans-serif">Ni</text>
<text transform="translate(640.20,1973.00) scale(1,1.05)" font-size="27.6" fill="#0000cd" stroke="#0000cd" stroke-width="0.35" style="font-family:'Liberation Sans',sans-serif">64</text>
<text x="672.52" y="1991.90" font-size="42.4" fill="#0000cd" stroke="#0000cd" stroke-width="0.35" style="font-family:'Liberation Sans',sans-serif">Ni</text>
<text x="723.20" y="1995.70" font-size="43" fill="#0000cd" stroke="#0000cd" stroke-width="0.35" style="font-family:'Liberation Sans',sans-serif">+</text>
<text transform="translate(758.80,1973.00) scale(1,1.05)" font-size="27.6" fill="#0000cd" stroke="#0000cd" stroke-width="0.35" style="font-family:'Liberation Sans',sans-serif">64</text>
<text x="791.42" y="1991.90" font-size="42.4" fill="#0000cd" stroke="#0000cd" stroke-width="0.35" style="font-family:'Liberation Sans',sans-serif">Ni</text>
<text x="388.43" y="2181.00" font-size="35.0" fill="#000" stroke="#000" stroke-width="0.35" style="font-family:'Liberation Sans',sans-serif">E</text>
<text transform="translate(410.44,2181.00) scale(1.17,0.95)" font-size="35" fill="#000" stroke="#000" stroke-width="0" style="font-family:'Liberation Serif',serif">σ</text>
<text x="431.96" y="2195.30" font-size="24.2" fill="#000" stroke="#000" stroke-width="0.35" style="font-family:'Liberation Sans',sans-serif">fus</text>
<text x="472.86" y="2181.00" font-size="34.475" fill="#000" stroke="#000" stroke-width="0.35" style="font-family:'Liberation Sans',sans-serif">(MeV mb)</text>
<text transform="translate(28.80,1904.07) rotate(-90) scale(1,1)" font-size="35" fill="#000" stroke="#000" stroke-width="0.35" style="font-family:'Liberation Sans',sans-serif">d(E</text>
<text transform="translate(28.80,1851.59) rotate(-90) scale(1.19,0.95)" font-size="35" fill="#000" stroke="#000" stroke-width="0" style="font-family:'Liberation Serif',serif">σ</text>
<text transform="translate(28.80,1829.31) rotate(-90) scale(1,1)" font-size="35" fill="#000" stroke="#000" stroke-width="0.35" style="font-family:'Liberation Sans',sans-serif">)/</text>
<text transform="translate(28.80,1810.27) rotate(-90) scale(1,1)" font-size="35" fill="#000" stroke="#000" stroke-width="0.35" style="font-family:'Liberation Sans',sans-serif">dE</text>
<text transform="translate(28.80,1748.23) rotate(-90) scale(1,1)" font-size="34.4" fill="#000" stroke="#000" stroke-width="0.35" style="font-family:'Liberation Sans',sans-serif">(mb)</text>
</g>
</svg>
</body></html>
